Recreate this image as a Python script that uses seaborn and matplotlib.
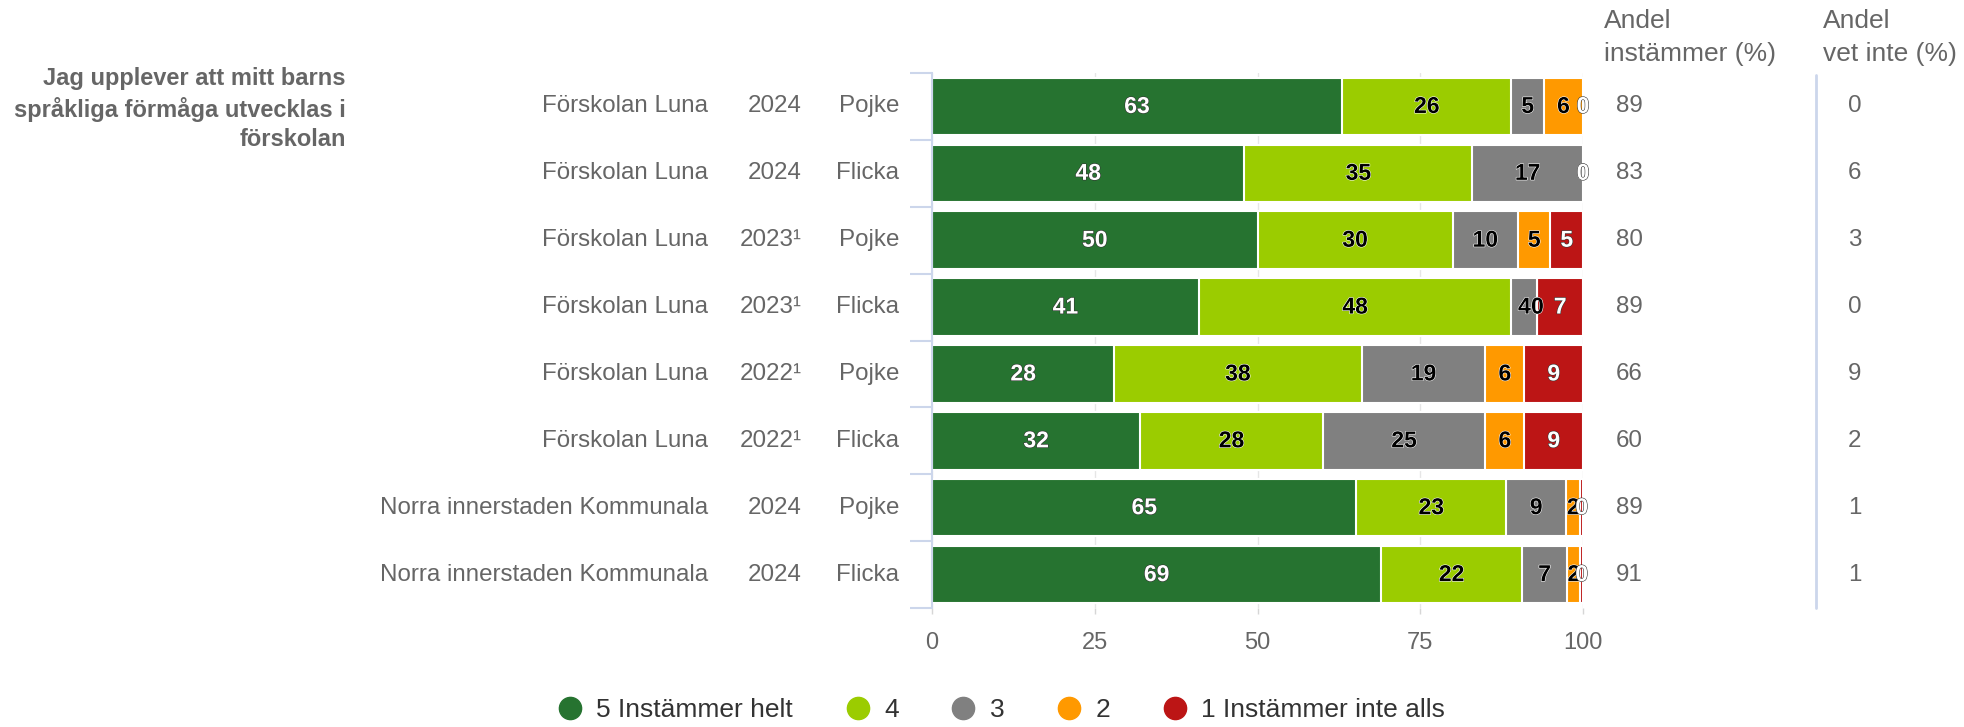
import matplotlib
matplotlib.use("Agg")
import matplotlib.pyplot as plt
import matplotlib.patheffects as pe
from matplotlib import transforms
from matplotlib.lines import Line2D
import seaborn as sns
import pandas as pd
import numpy as np

# ---------------- data ----------------
title = "Jag upplever att mitt barns\nspråkliga förmåga utvecklas i\nförskolan"
units = ["Förskolan Luna"] * 6 + ["Norra innerstaden Kommunala"] * 2
years = ["2024", "2024", "2023¹", "2023¹", "2022¹", "2022¹", "2024", "2024"]
genders = ["Pojke", "Flicka", "Pojke", "Flicka", "Pojke", "Flicka", "Pojke", "Flicka"]

s5 = [63, 48, 50, 41, 28, 32, 65.2, 69.0]
s4 = [26, 35, 30, 48, 38, 28, 23.0, 21.6]
s3 = [5, 17, 10, 4, 19, 25, 9.2, 7.0]
s2 = [6, 0, 5, 0, 6, 6, 2.2, 2.0]
s1 = [0, 0, 5, 7, 9, 9, 0.4, 0.4]

andel_instammer = [89, 83, 80, 89, 66, 60, 89, 91]
andel_vet_inte = [0, 6, 3, 0, 9, 2, 1, 1]

series_names = ["5 Instämmer helt", "4", "3", "2", "1 Instämmer inte alls"]
series_colors = ["#267330", "#9bcc00", "#808080", "#ff9900", "#bc1515"]
label_colors = ["white", "black", "black", "black", "white"]
xticks = [0, 25, 50, 75, 100]

header1 = ["Andel", "instämmer (%)"]
header2 = ["Andel", "vet inte (%)"]

# ---------------- figure ----------------
sns.set_theme(style="white")
plt.rcParams['font.family'] = ['Liberation Sans', 'DejaVu Sans']

W, H = 1965, 727
fig = plt.figure(figsize=(W / 100, H / 100), dpi=100)
ax_top, ax_bot = 73, 608
ax = fig.add_axes([932 / W, 1 - ax_bot / H, (1583 - 932) / W, (ax_bot - ax_top) / H])

row_ids = [f"r{i}" for i in range(len(genders))]
series = [s5, s4, s3, s2, s1]
cum = np.cumsum(np.array(series, dtype=float), axis=0)

for k in range(len(series) - 1, -1, -1):
    df = pd.DataFrame({"row": row_ids, "val": cum[k]})
    sns.barplot(data=df, x="val", y="row", orient="h", color=series_colors[k],
                saturation=1, width=0.86, edgecolor="white", linewidth=1.5,
                errorbar=None, ax=ax, zorder=2)

ax.set_xlim(0, 100)
ax.set_ylim(len(genders) - 0.5, -0.5)
ax.set_xticks(xticks)
ax.set_xticklabels([str(t) for t in xticks])
ax.grid(axis="x", color="#e6e6e6", lw=1, zorder=0)
ax.grid(axis="y", visible=False)
ax.set_axisbelow(True)
ax.set_xlabel("")
ax.set_ylabel("")
ax.set_yticks(range(len(genders)))
ax.set_yticklabels([])
ax.set_yticks(np.arange(-0.5, len(genders), 1), minor=True)
ax.tick_params(axis="y", which="major", length=0)
ax.tick_params(axis="y", which="minor", length=16, width=1.5, color="#ccd6eb", left=True)
ax.tick_params(axis="x", length=4, width=1, color="#d6d6d6", bottom=True,
               labelsize=17, labelcolor="#666666", pad=13)
for sp in ["top", "right", "bottom"]:
    ax.spines[sp].set_visible(False)
ax.spines["left"].set_color("#ccd6eb")
ax.spines["left"].set_linewidth(1.5)

# data labels
for k, s in enumerate(series):
    for i, v in enumerate(s):
        left = cum[k][i] - v
        outline = "#333333" if label_colors[k] == "white" else "white"
        ax.text(left + v / 2, i, f"{v:.0f}", ha="center", va="center",
                fontsize=16.5, fontweight="bold", color=label_colors[k],
                zorder=5, clip_on=False,
                path_effects=[pe.withStroke(linewidth=0.8, foreground=outline)])

trans = transforms.blended_transform_factory(fig.transFigure, ax.transData)
for i in range(len(genders)):
    ax.text(708 / W, i, units[i], transform=trans, ha="right", va="center",
            fontsize=17.4, color="#666666")
    ax.text(802 / W, i, years[i], transform=trans, ha="right", va="center",
            fontsize=17.4, color="#666666")
    ax.text(899 / W, i, genders[i], transform=trans, ha="right", va="center",
            fontsize=17.4, color="#666666")
    ax.text(1616 / W, i, str(andel_instammer[i]), transform=trans, ha="left",
            va="center", fontsize=17.4, color="#666666")
    ax.text(1848 / W, i, str(andel_vet_inte[i]), transform=trans, ha="left",
            va="center", fontsize=17.4, color="#666666")

fig.text(346 / W, 1 - 67 / H, title, ha="right", va="top", fontsize=17,
         fontweight="bold", color="#666666", linespacing=1.35)

for j, line in enumerate(header1):
    fig.text(1604 / W, 1 - (21 + 33 * j) / H, line, ha="left", va="center",
             fontsize=19, color="#666666")
for j, line in enumerate(header2):
    fig.text(1823 / W, 1 - (21 + 33 * j) / H, line, ha="left", va="center",
             fontsize=19, color="#666666")

fig.add_artist(Line2D([1816 / W, 1816 / W], [1 - 75 / H, 1 - 608 / H],
                      color="#ccd6eb", lw=2))

handles = [Line2D([], [], marker="o", linestyle="", markersize=16,
                  markerfacecolor=c, markeredgecolor=c) for c in series_colors]
leg = fig.legend(handles, series_names, loc="center",
                 bbox_to_anchor=(1001 / W, 1 - 710 / H), ncol=5, frameon=False,
                 fontsize=19, handletextpad=0.5, columnspacing=1.95,
                 handlelength=1.0)
for t in leg.get_texts():
    t.set_color("#333333")

fig.savefig("out.png", dpi=100)
